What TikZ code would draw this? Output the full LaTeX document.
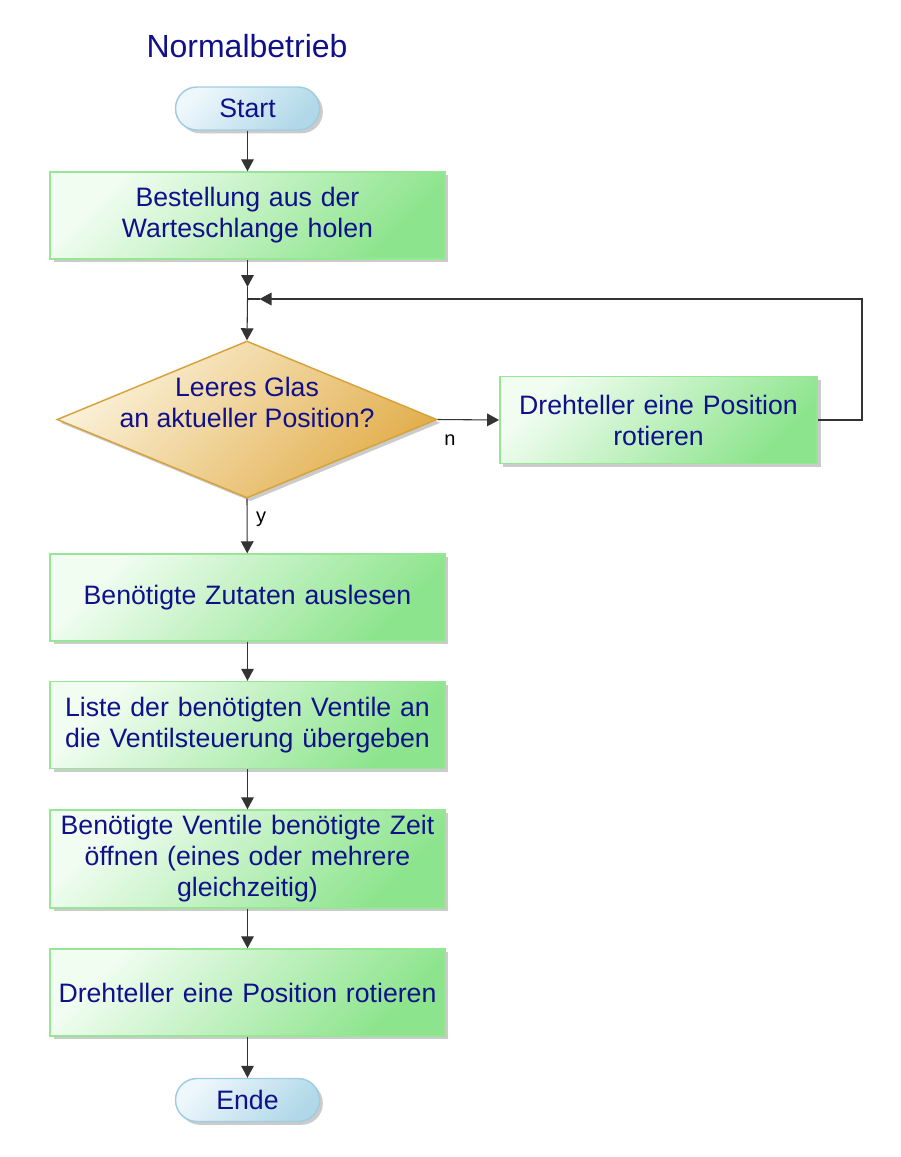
\documentclass[tikz,border=0pt]{standalone}
\usepackage{fontspec}
\setmainfont{Liberation Sans}
\usetikzlibrary{shapes.geometric,arrows.meta,shadows}

\definecolor{txtblue}{RGB}{16,16,138}
\definecolor{boxlight}{RGB}{242,253,242}
\definecolor{boxdark}{RGB}{140,228,140}
\definecolor{boxline}{RGB}{150,230,150}
\definecolor{declight}{RGB}{251,242,218}
\definecolor{decdark}{RGB}{226,174,76}
\definecolor{decline}{RGB}{214,162,60}
\definecolor{termlight}{RGB}{238,247,252}
\definecolor{termdark}{RGB}{176,216,232}
\definecolor{termline}{RGB}{160,204,224}

\tikzset{
  flowtext/.style={text=txtblue, font=\fontsize{20}{23.25}\selectfont, align=center},
  boxshadow/.style={drop shadow={shadow xshift=2.5pt, shadow yshift=-2.5pt, fill=black!45, opacity=0.45}},
  process/.style={flowtext, rectangle, draw=boxline, line width=1.1pt,
    top color=boxlight, bottom color=boxdark, shading angle=45, boxshadow,
    minimum height=65.25pt, inner xsep=3pt, text width=290pt},
  decision/.style={diamond, draw=decline, line width=1.1pt,
    top color=declight, bottom color=decdark, shading angle=45, boxshadow,
    minimum width=285pt, minimum height=117.75pt, inner sep=0pt},
  terminal/.style={flowtext, rectangle, rounded corners=16pt, draw=termline, line width=1.1pt,
    top color=termlight, bottom color=termdark, shading angle=45, boxshadow,
    minimum width=108pt, minimum height=32.25pt, inner sep=0pt},
  flowline/.style={line width=0.8pt, draw=black!80},
  arr/.style={flowline, -{Triangle[length=9pt,width=9.5pt]}},
  branch/.style={font=\fontsize{15}{18}\selectfont, text=black}
}

\begin{document}
\begin{tikzpicture}[x=0.75pt,y=0.75pt,yscale=-1,xscale=1]
\useasboundingbox (0,0) rectangle (900,1157);

% Title
\node[text=txtblue, font=\fontsize{24}{28}\selectfont] (title) at (247,46) {Normalbetrieb};

% Start / Ende
\node[terminal] (start) at (247.5,108.5) {Start};
\node[terminal] (stop) at (247.5,1100) {Ende};

% Steps
\node[process] (order) at (247.5,215.5) {Bestellung aus der\\Warteschlange holen};
\node[decision, label={[flowtext, yshift=12.75pt]center:{Leeres Glas\\an aktueller Position?}}] (glass) at (247,419.5) {};
\node[process, text width=232pt] (turn) at (658.5,420) {Drehteller eine Position\\rotieren};
\node[process] (read) at (247.5,597.5) {Benötigte Zutaten auslesen};
\node[process] (list) at (247.5,725) {Liste der benötigten Ventile an\\die Ventilsteuerung übergeben};
\node[process, minimum height=73.5pt] (open) at (247.5,859) {Benötigte Ventile benötigte Zeit\\öffnen (eines oder mehrere\\gleichzeitig)};
\node[process] (rotate) at (247.5,992.5) {Drehteller eine Position rotieren};

% Branch labels
\node[branch] (no) at (450,440) {n};
\node[branch] (yes) at (261,519) {y};

% Junction above the decision
\coordinate (tipA) at (247.5,287);
\coordinate (join) at (247.5,299);
\coordinate (tipB) at (259.5,299);
\coordinate (back) at (862,299);

% Connectors
\draw[arr] (start) -- (order);
\draw[arr] (order) -- (tipA);
\draw[flowline] (tipA) -- (join);
\draw[arr] (join) -- (glass.north);
\draw[arr] (glass.east) -- (turn.west);
\draw[arr] (turn.east) -| (back) -- (tipB);
\draw[flowline] (tipB) -- (join);
\draw[arr] (glass.south) -- (read);
\draw[arr] (read) -- (list);
\draw[arr] (list) -- (open);
\draw[arr] (open) -- (rotate);
\draw[arr] (rotate) -- (stop);
\end{tikzpicture}
\end{document}
